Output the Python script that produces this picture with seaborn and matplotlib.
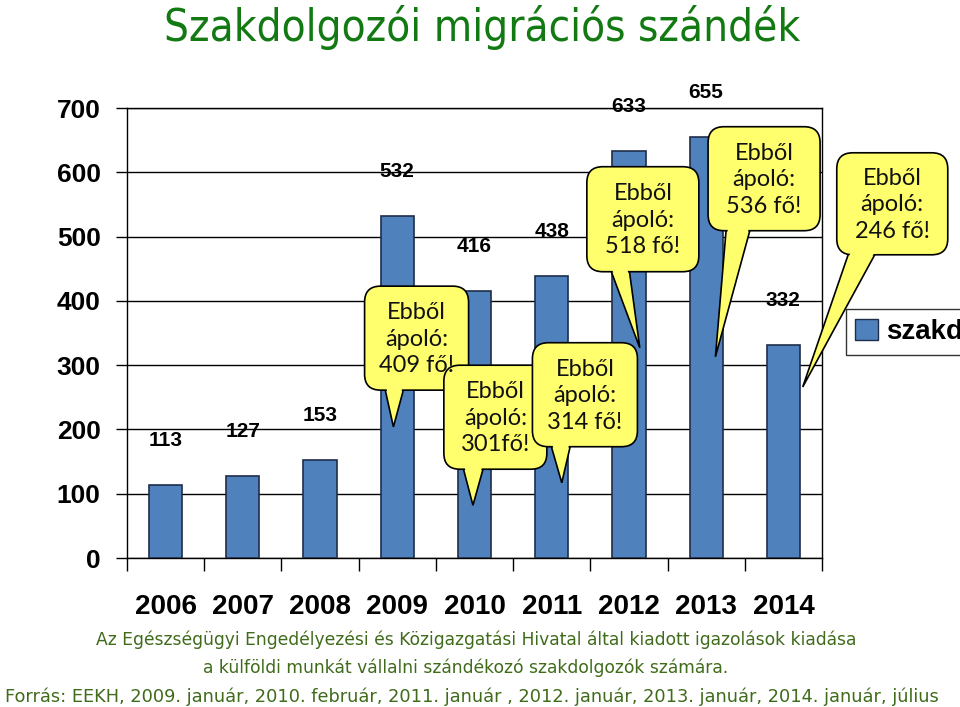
import matplotlib
matplotlib.use("Agg")
import matplotlib.pyplot as plt
import seaborn as sns
import pandas as pd
from matplotlib.patches import FancyBboxPatch, Polygon, Patch
from matplotlib.transforms import IdentityTransform
from matplotlib import font_manager as fm

# ---------------- data ----------------
years = ["2006", "2007", "2008", "2009", "2010", "2011", "2012", "2013", "2014"]
applicants = [113, 127, 153, 532, 416, 438, 633, 655, 332]
nurse_counts = [409, 301, 314, 518, 536, 246]
nurse_texts = ["409 fő!", "301fő!", "314 fő!", "518 fő!", "536 fő!", "246 fő!"]
legend_label = "szakdolgozók"
title = "Szakdolgozói migrációs szándék"
note_lines = [
    "Az Egészségügyi Engedélyezési és Közigazgatási Hivatal által kiadott igazolások kiadása",
    "a külföldi munkát vállalni szándékozó szakdolgozók számára.",
    "Forrás: EEKH, 2009. január, 2010. február, 2011. január , 2012. január, 2013. január, 2014. január, július",
]

# callout layout (box centre in category/value coords, tail tip, tail base offsets px)
box_centres = [(3.25, 342), (4.27, 219), (5.43, 254), (6.18, 527), (7.75, 590), (9.41, 551)]
tail_tips = [(2.95, 204), (3.98, 82), (5.13, 117), (6.14, 327), (7.12, 313), (8.25, 266)]
tail_bases = [(-34, -10), (-35, -9), (-37, -12), (-36, -15), (-37, -11), (-40, -11)]
box_sizes = [(104, 104), (103, 104), (105, 104), (112, 105), (112, 104), (111, 102)]


def pick(names):
    for n in names:
        try:
            fm.findfont(fm.FontProperties(family=n), fallback_to_default=False)
            return n
        except Exception:
            continue
    return "DejaVu Sans"


ARIAL = pick(["Liberation Sans", "Arial"])
NARROW = pick(["Liberation Sans Narrow", "Liberation Sans"])
CALIBRI = pick(["Lato", "Open Sans"])
TAHOMA = pick(["DejaVu Sans"])

sns.set_style("white")
plt.rcParams["font.family"] = [ARIAL, "DejaVu Sans"]
plt.rcParams["text.color"] = "black"
plt.rcParams["xtick.color"] = "black"
plt.rcParams["ytick.color"] = "black"

BAR = "#4F81BD"
BAR_EDGE = "#1F2D4A"
YELLOW = "#FFFF6E"
GREEN_T = "#137A13"
GREEN_N = "#3F6B1A"

fig = plt.figure(figsize=(9.6, 7.07), dpi=100)
ax = fig.add_axes([127 / 960, 149 / 707, 695 / 960, 450 / 707])

df = pd.DataFrame({"year": years, "value": applicants})
sns.barplot(data=df, x="year", y="value", color=BAR, edgecolor=BAR_EDGE,
            linewidth=1.2, width=0.43, saturation=1, ax=ax, zorder=3)

ax.set_xlim(-0.5, len(years) - 0.5)
ax.set_ylim(0, 700)
ax.set_yticks(range(0, 701, 100))
ax.set_yticklabels([str(v) for v in range(0, 701, 100)], fontsize=19,
                   fontweight="bold", family=[ARIAL, "DejaVu Sans"], color="black")
ax.grid(axis="y", color="black", linewidth=1)
ax.grid(axis="x", visible=False)
ax.set_axisbelow(True)
for s in ax.spines.values():
    s.set_visible(True)
    s.set_color("black")
    s.set_linewidth(1)
ax.tick_params(axis="y", direction="out", length=8, width=1, color="black", pad=11, left=True)

# x ticks at category boundaries, labels at centres
ax.set_xticks([i - 0.5 for i in range(len(years) + 1)])
ax.set_xticklabels([""] * (len(years) + 1))
ax.set_xticks(range(len(years)), minor=True)
ax.set_xticklabels(years, minor=True, fontsize=20, fontweight="bold",
                   family=[NARROW, "DejaVu Sans"], color="black")
ax.tick_params(axis="x", which="major", direction="out", length=9, width=1, color="black", bottom=True)
ax.tick_params(axis="x", which="minor", length=0, pad=26)
ax.set_xlabel("")
ax.set_ylabel("")

# value labels
for i, v in enumerate(applicants):
    ax.annotate(str(v), (i, v), xytext=(0, 32), textcoords="offset points",
                ha="center", va="center", fontsize=15, fontweight="bold", color="black",
                family=[ARIAL, "DejaVu Sans"], annotation_clip=False, zorder=4)

# legend (partly cut by the figure edge, as in the original)
leg = ax.legend([Patch(facecolor=BAR, edgecolor=BAR_EDGE)], [legend_label],
                loc="center left", bbox_to_anchor=(1.034, 0.502), frameon=True,
                fancybox=False, prop=dict(family=ARIAL, weight="bold", size=20),
                handlelength=0.8, handleheight=0.8, handletextpad=0.3,
                borderpad=0.35, borderaxespad=0)
leg.get_frame().set_edgecolor("black")
leg.get_frame().set_linewidth(1)
for t in leg.get_texts():
    t.set_color("black")
leg.set_clip_on(False)

# callouts drawn in display pixels
fig.canvas.draw()
ident = IdentityTransform()
for k in range(len(nurse_counts)):
    cx, cy = ax.transData.transform(box_centres[k])
    tx, ty = ax.transData.transform(tail_tips[k])
    w, h = box_sizes[k]
    b1, b2 = tail_bases[k]
    yb = cy - h / 2
    by = yb + 12
    tail = Polygon([(cx + b1, by), (tx, ty), (cx + b2, by)], closed=True,
                   facecolor=YELLOW, edgecolor="black", linewidth=1.2,
                   transform=ident, zorder=6, clip_on=False)
    fig.add_artist(tail)
    box = FancyBboxPatch((cx - w / 2, yb), w, h,
                         boxstyle="round,pad=0,rounding_size=16",
                         facecolor=YELLOW, edgecolor="black", linewidth=1.2,
                         transform=ident, zorder=7, clip_on=False)
    fig.add_artist(box)

    def side(xb, y):
        return xb + (tx - xb) * (by - y) / (by - ty)

    ys = [yb + 3, yb - 3]
    cover = Polygon([(side(cx + b1, ys[0]) + 1.6, ys[0]), (side(cx + b2, ys[0]) - 1.6, ys[0]),
                     (side(cx + b2, ys[1]) - 1.6, ys[1]), (side(cx + b1, ys[1]) + 1.6, ys[1])],
                    closed=True, facecolor=YELLOW, edgecolor="none",
                    transform=ident, zorder=8, clip_on=False)
    fig.add_artist(cover)
    fig.text(cx, cy - 1, "Ebből\nápoló:\n" + nurse_texts[k], transform=ident,
             ha="center", va="center", multialignment="center",
             fontsize=17, linespacing=1.32, family=[CALIBRI, "DejaVu Sans"],
             color="#111111", zorder=9)

# title and notes
fig.text(482 / 960, 1 - 28 / 707, title, ha="center", va="center", color=GREEN_T,
         fontproperties=fm.FontProperties(family=TAHOMA, stretch="condensed", size=31.5))
note_fp = fm.FontProperties(family=TAHOMA, size=12.3)
fig.text(476 / 960, 1 - 640 / 707, note_lines[0], ha="center", va="center",
         color=GREEN_N, fontproperties=note_fp)
fig.text(466 / 960, 1 - 668 / 707, note_lines[1], ha="center", va="center",
         color=GREEN_N, fontproperties=note_fp)
fig.text(5 / 960, 1 - 697 / 707, note_lines[2], ha="left", va="center",
         color=GREEN_N, fontproperties=fm.FontProperties(family=TAHOMA, size=12.8))

fig.savefig("out.png", dpi=100)
